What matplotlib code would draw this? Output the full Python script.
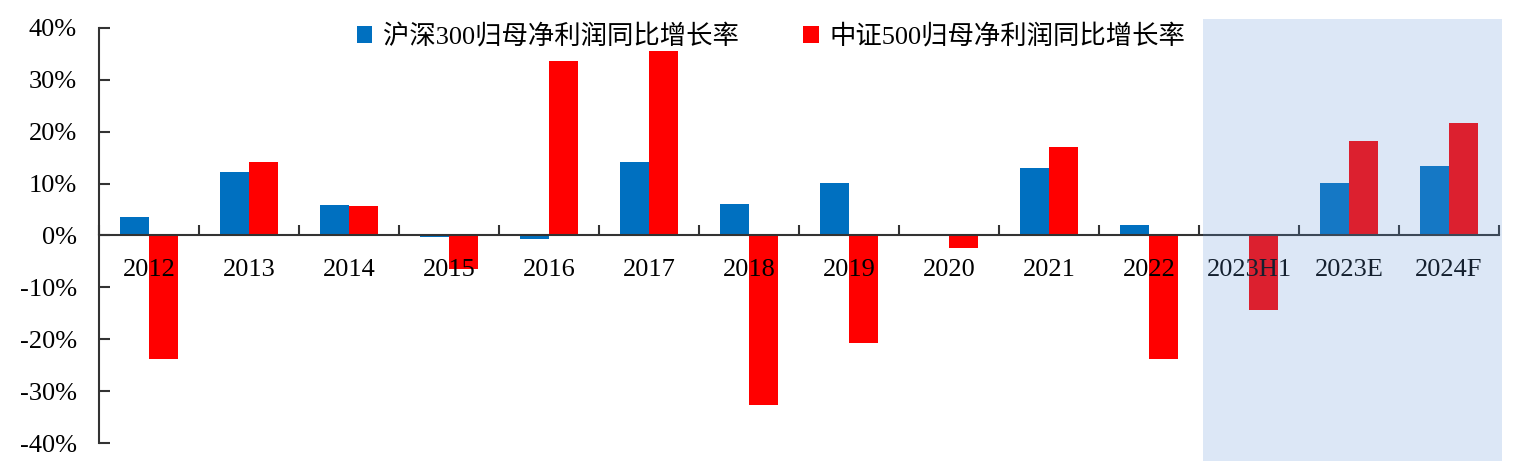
"""
Earnings growth bar chart: CSI 300 vs CSI 500 YoY net profit growth.
"""
import numpy as np
import matplotlib
matplotlib.use("Agg")
import matplotlib.pyplot as plt
from matplotlib.patches import Rectangle
from matplotlib.transforms import blended_transform_factory
from matplotlib.ticker import FuncFormatter

# ---------- data ----------
years = ["2012", "2013", "2014", "2015", "2016", "2017", "2018", "2019",
         "2020", "2021", "2022", "2023H1", "2023E", "2024F"]
hs300 = [3.5, 12.3, 5.8, -0.3, -0.6, 14.1, 6.1, 10.2, 0.1, 13.1, 2.1, 0.1, 10.2, 13.4]
zz500 = [-23.9, 14.1, 5.6, -6.4, 33.7, 35.5, -32.6, -20.8, -2.5, 17.0, -23.9, -14.3, 18.3, 21.6]
name_300 = "沪深300归母净利润同比增长率"
name_500 = "中证500归母净利润同比增长率"
yticks = [-40, -30, -20, -10, 0, 10, 20, 30, 40]
forecast_start = "2023H1"

BLUE = "#0070C0"
RED = "#FF0000"
SERIF = ["Liberation Serif", "Noto Sans CJK SC"]

# ---------- plot ----------
fig = plt.figure(figsize=(15.15, 4.65), dpi=100)
ax = fig.add_axes([99 / 1515, 22 / 465, 1400 / 1515, 415 / 465])

x = np.arange(len(years))
w = 0.29
ax.bar(x - w / 2, hs300, width=w, color=BLUE, label=name_300, zorder=1)
ax.bar(x + w / 2, zz500, width=w, color=RED, label=name_500, zorder=1)

ax.set_xlim(-0.5, len(years) - 0.5)
ax.set_ylim(-40, 40)
ax.set_yticks(yticks)
ax.yaxis.set_major_formatter(FuncFormatter(lambda v, p: f"{v:.0f}%"))

# x axis sits on zero, ticks at category borders, labels at centres
ax.spines["bottom"].set_position(("data", 0))
for s in ["top", "right"]:
    ax.spines[s].set_visible(False)
for s in ["bottom", "left"]:
    ax.spines[s].set_color("#333333")
    ax.spines[s].set_linewidth(1.5)

ax.set_xticks(np.arange(len(years) + 1) - 0.5)
ax.set_xticklabels([])
ax.set_xticks(x, minor=True)
ax.set_xticklabels(years, minor=True)
ax.tick_params(axis="x", which="major", direction="in", length=7, width=1.5, color="#333333")
ax.tick_params(axis="x", which="minor", length=0, pad=17)
ax.tick_params(axis="y", direction="in", length=8, width=1.5, color="#333333", pad=16)
for lab in ax.get_xticklabels(minor=True) + ax.get_yticklabels():
    lab.set_fontfamily(SERIF)
    lab.set_fontsize(19)

# forecast shading, drawn on top like a translucent overlay
i0 = years.index(forecast_start)
x0, x1 = i0 - 0.46, len(years) - 0.47
tr = blended_transform_factory(ax.transData, ax.transAxes)
ax.add_patch(Rectangle((x0, -0.043), x1 - x0, 1.065,
                       transform=tr, clip_on=False, facecolor="#6096DA",
                       alpha=0.22, edgecolor="none", zorder=5))

leg = fig.legend(loc="upper center", bbox_to_anchor=(0.509, 1.0), ncol=2,
                 frameon=False, prop={"family": SERIF, "size": 19},
                 handlelength=0.6, handleheight=0.6, handletextpad=0.4,
                 columnspacing=2.45)

fig.savefig("out.png", dpi=100)
